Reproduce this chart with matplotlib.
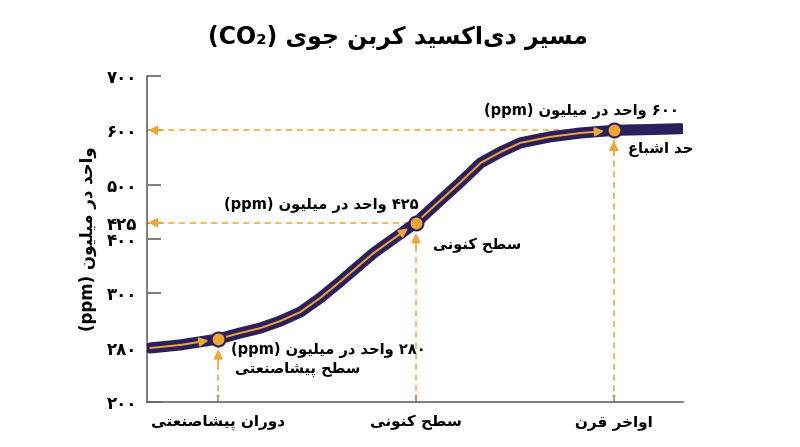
import re
import numpy as np
import matplotlib
matplotlib.use("Agg")
import matplotlib.pyplot as plt

plt.rcParams['font.family'] = ['DejaVu Sans']

# --- data -------------------------------------------------------------
title = "مسیر دی‌اکسید کربن جوی (CO₂)"
y_label = "واحد در میلیون (ppm)"
x_labels = ["دوران پیشاصنعتی", "سطح کنونی", "اواخر قرن"]
x_pos = [1, 2, 3]
y_ticks = [200, 280, 300, 400, 425, 500, 600, 700]
y_tick_labels = ["۲۰۰", "۲۸۰", "۳۰۰", "۴۰۰", "۴۲۵", "۵۰۰", "۶۰۰", "۷۰۰"]
# the axis is not linear: ticks sit at these steps
scale_ticks = [200, 280, 300, 400, 425, 500, 600, 700]
scale_steps = [0, 1, 2, 3, 3.3, 4, 5, 6]

curve_x = [0.656, 0.808, 1.0, 1.111, 1.213, 1.314, 1.415, 1.516, 1.618, 1.785, 2.0,
           2.126, 2.226, 2.327, 2.427, 2.528, 2.678, 2.829, 3.0, 3.186, 3.337]
curve_y = [279.5, 281, 283.2, 285.4, 287.2, 289.8, 293.1, 298.3, 322, 374, 425,
           470, 505, 540, 560, 577, 588, 595, 600, 601.5, 603]
key_idx = [2, 10, 18]   # points marked with a circle

value_labels = ["۲۸۰ واحد در میلیون (ppm)", "۴۲۵ واحد در میلیون (ppm)", "۶۰۰ واحد در میلیون (ppm)"]
level_labels = ["سطح پیشاصنعتی", "سطح کنونی", "حد اشباع"]

NAVY = "#2b1f5c"
ORANGE = "#f0a534"
GRAY = "#666666"

# --- minimal arabic/persian shaping (matplotlib has no text shaping) ---
FORMS = {
    '\u0627': ('\uFE8D', '\uFE8E', None, None),
    '\u0628': ('\uFE8F', '\uFE90', '\uFE91', '\uFE92'),
    '\u062A': ('\uFE95', '\uFE96', '\uFE97', '\uFE98'),
    '\u062C': ('\uFE9D', '\uFE9E', '\uFE9F', '\uFEA0'),
    '\u062D': ('\uFEA1', '\uFEA2', '\uFEA3', '\uFEA4'),
    '\u062E': ('\uFEA5', '\uFEA6', '\uFEA7', '\uFEA8'),
    '\u062F': ('\uFEA9', '\uFEAA', None, None),
    '\u0631': ('\uFEAD', '\uFEAE', None, None),
    '\u0633': ('\uFEB1', '\uFEB2', '\uFEB3', '\uFEB4'),
    '\u0634': ('\uFEB5', '\uFEB6', '\uFEB7', '\uFEB8'),
    '\u0635': ('\uFEB9', '\uFEBA', '\uFEBB', '\uFEBC'),
    '\u0637': ('\uFEC1', '\uFEC2', '\uFEC3', '\uFEC4'),
    '\u0639': ('\uFEC9', '\uFECA', '\uFECB', '\uFECC'),
    '\u0642': ('\uFED5', '\uFED6', '\uFED7', '\uFED8'),
    '\u0644': ('\uFEDD', '\uFEDE', '\uFEDF', '\uFEE0'),
    '\u0645': ('\uFEE1', '\uFEE2', '\uFEE3', '\uFEE4'),
    '\u0646': ('\uFEE5', '\uFEE6', '\uFEE7', '\uFEE8'),
    '\u0648': ('\uFEED', '\uFEEE', None, None),
    '\u067E': ('\uFB56', '\uFB57', '\uFB58', '\uFB59'),
    '\u06A9': ('\uFB8E', '\uFB8F', '\uFB90', '\uFB91'),
    '\u06CC': ('\uFBFC', '\uFBFD', '\uFBFE', '\uFBFF'),
}


def fa(text):
    out = []
    for i, ch in enumerate(text):
        if ch not in FORMS:
            out.append(ch)
            continue
        prev = text[i - 1] if i > 0 else ''
        nxt = text[i + 1] if i + 1 < len(text) else ''
        join_prev = prev in FORMS and FORMS[prev][2] is not None
        join_next = nxt in FORMS and FORMS[ch][2] is not None
        iso, fin, ini, med = FORMS[ch]
        if join_prev and join_next:
            out.append(med)
        elif join_prev:
            out.append(fin)
        elif join_next:
            out.append(ini)
        else:
            out.append(iso)
    s = ''.join(out).replace('\u200c', '')[::-1]
    s = re.sub(r'[A-Za-z0-9\u06F0-\u06F9\u2082]+', lambda m: m.group(0)[::-1], s)
    return s.translate(str.maketrans('()', ')('))


# --- figure -----------------------------------------------------------
fig = plt.figure(figsize=(8, 4.47), dpi=100)
ax = fig.add_axes([147 / 800, 1 - 402 / 447, 536 / 800, 326 / 447])

ax.set_yscale('function', functions=(lambda v: np.interp(v, scale_ticks, scale_steps),
                                     lambda p: np.interp(p, scale_steps, scale_ticks)))
ax.set_ylim(200, 700)
ax.set_xlim(0.64, 3.35)

for s in ['top', 'right']:
    ax.spines[s].set_visible(False)
for s in ['left', 'bottom']:
    ax.spines[s].set_color(GRAY)
    ax.spines[s].set_linewidth(1.2)

ax.set_yticks(y_ticks)
ax.set_yticklabels(y_tick_labels, fontsize=12, fontweight='bold')
ax.yaxis.set_minor_locator(matplotlib.ticker.NullLocator())
ax.set_xticks(x_pos)
ax.set_xticklabels([fa(t) for t in x_labels], fontsize=11, fontweight='bold')
ax.tick_params(axis='y', direction='in', length=10, width=1.2, color=GRAY, pad=7)
ax.tick_params(axis='x', direction='in', length=5, width=1.2, color=GRAY, pad=9)
ax.set_ylabel(fa(y_label), fontsize=12, fontweight='bold', labelpad=7)

# dashed guide lines
dash = dict(color=ORANGE, lw=1.1, ls=(0, (4, 3)), zorder=2)
head = dict(arrowstyle='-|>', color=ORANGE, lw=1.1, mutation_scale=14)
kx = [curve_x[i] for i in key_idx]
ky = [curve_y[i] for i in key_idx]
for x, y in zip(kx, ky):
    ax.plot([x, x], [200, y], **dash)
    ax.annotate('', xy=(x, y), xytext=(0, -18), textcoords='offset points',
                arrowprops=dict(head, shrinkA=0, shrinkB=7.5), zorder=3)
for x, y in zip(kx[1:], ky[1:]):
    ax.plot([0.64, x], [y, y], **dash)
    ax.annotate('', xy=(0.645, y), xytext=(0.72, y),
                arrowprops=dict(head, shrinkA=0, shrinkB=0), zorder=3)

# main curve
ax.plot(curve_x, curve_y, color=NAVY, lw=8, solid_capstyle='round',
        solid_joinstyle='round', zorder=4)
start = 0
for k in key_idx:
    ax.plot(curve_x[start:k], curve_y[start:k], color=ORANGE, lw=1.4, zorder=5,
            solid_capstyle='round', solid_joinstyle='round')
    ax.annotate('', xy=(curve_x[k], curve_y[k]), xytext=(curve_x[k - 1], curve_y[k - 1]),
                arrowprops=dict(arrowstyle='-|>', color=ORANGE, lw=1.4,
                                mutation_scale=13, shrinkA=0, shrinkB=7), zorder=5)
    start = k
ax.plot(kx, ky, 'o', ms=10, mfc=ORANGE, mec=NAVY, mew=1.5, zorder=6)

# labels
txt = dict(fontsize=10.5, fontweight='bold', va='center', textcoords='offset points')
ax.annotate(fa(value_labels[0]), (kx[0], ky[0]), xytext=(9, -8), ha='left', **txt)
ax.annotate(fa(level_labels[0]), (kx[0], ky[0]), xytext=(12, -22), ha='left', **txt)
ax.annotate(fa(value_labels[1]), (kx[1], ky[1]), xytext=(2, 13), ha='right', **txt)
ax.annotate(fa(level_labels[1]), (kx[1], ky[1]), xytext=(12, -16), ha='left', **txt)
ax.annotate(fa(value_labels[2]), (kx[2], ky[2]), xytext=(47, 14), ha='right', **txt)
ax.annotate(fa(level_labels[2]), (kx[2], ky[2]), xytext=(10, -14), ha='left', **txt)

fig.text(0.4975, 1 - 37 / 447, fa(title), ha='center', va='center',
         fontsize=17, fontweight='bold')

fig.savefig('out.png', dpi=100)
